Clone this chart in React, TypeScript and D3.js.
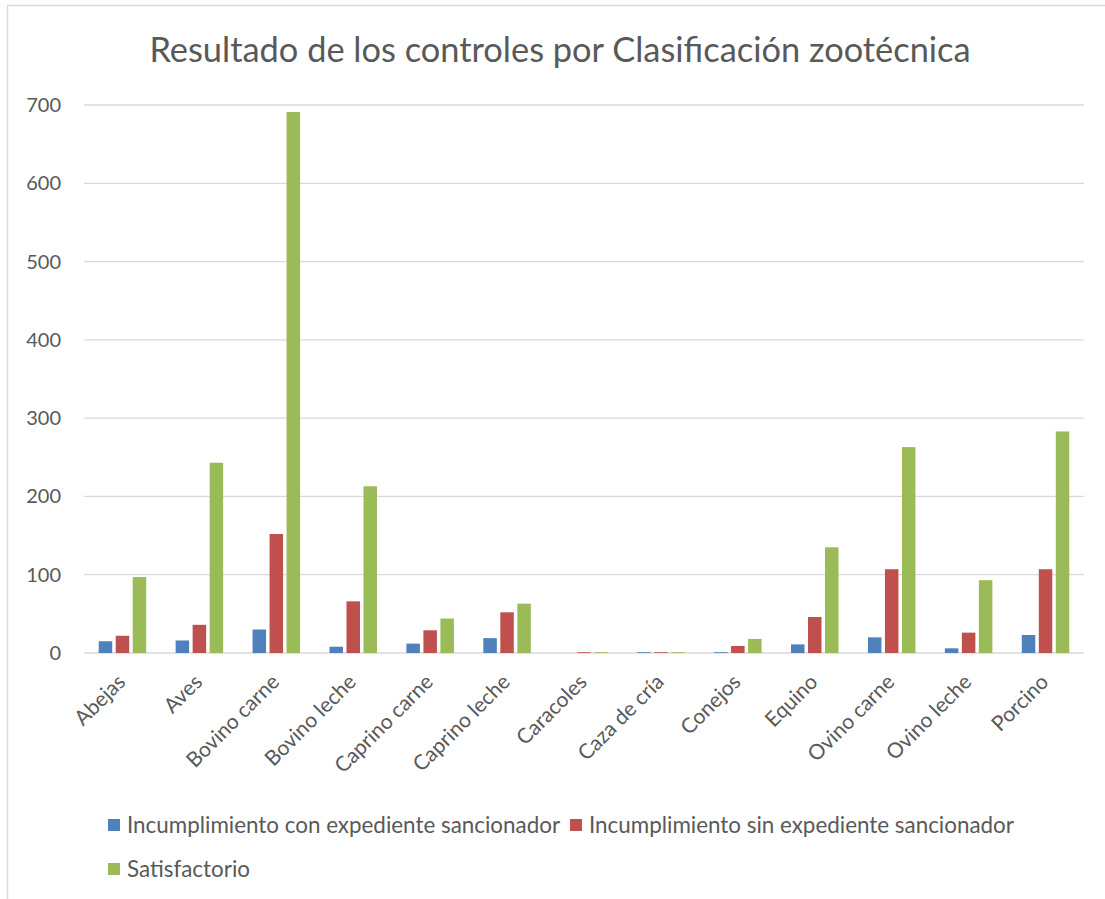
import React, { useEffect, useRef } from "react";
import * as d3 from "d3";

const categories = [
  "Abejas",
  "Aves",
  "Bovino carne",
  "Bovino leche",
  "Caprino carne",
  "Caprino leche",
  "Caracoles",
  "Caza de cría",
  "Conejos",
  "Equino",
  "Ovino carne",
  "Ovino leche",
  "Porcino",
];

const seriesNames = [
  "Incumplimiento con expediente sancionador",
  "Incumplimiento sin expediente sancionador",
  "Satisfactorio",
];

const conExpediente = [15, 16, 30, 8, 12, 19, 0, 1, 1, 11, 20, 6, 23];
const sinExpediente = [22, 36, 152, 66, 29, 52, 1, 1, 9, 46, 107, 26, 107];
const satisfactorio = [97, 243, 691, 213, 44, 63, 1, 1, 18, 135, 263, 93, 283];

const yTicks = [0, 100, 200, 300, 400, 500, 600, 700];
const colors = ["#4f81bd", "#c0504d", "#9bbb59"];

const W = 1105;
const H = 899;
const FONT = "Lato, 'Open Sans', sans-serif";
const TEXT = "#595959";

const App = () => {
  const ref = useRef<SVGSVGElement>(null);

  useEffect(() => {
    const svg = d3.select(ref.current);
    svg.selectAll("*").remove();

    const margin = { left: 84, right: 21, top: 105, bottom: 246 };
    const width = W - margin.left - margin.right;
    const height = H - margin.top - margin.bottom;

    // outer chart border
    svg
      .append("rect")
      .attr("x", 7.5)
      .attr("y", 5.5)
      .attr("width", W)
      .attr("height", H)
      .attr("fill", "#fff")
      .attr("stroke", "#d9d9d9")
      .attr("stroke-width", 1.5);

    svg
      .append("text")
      .attr("x", 560)
      .attr("y", 62)
      .attr("text-anchor", "middle")
      .attr("fill", TEXT)
      .style("font-family", FONT)
      .style("font-size", "34.4px")
      .text("Resultado de los controles por Clasificación zootécnica");

    const g = svg
      .append("g")
      .attr("transform", `translate(${margin.left},${margin.top})`);

    const x = d3.scaleBand().domain(categories).range([0, width]);
    const y = d3.scaleLinear().domain([0, 700]).range([height, 0]);

    const data = [conExpediente, sinExpediente, satisfactorio];
    const barW = 13.5;
    const step = 17;

    g.selectAll(".grid")
      .data(yTicks)
      .join("line")
      .attr("class", "grid")
      .attr("x1", 0)
      .attr("x2", width)
      .attr("y1", (d) => y(d))
      .attr("y2", (d) => y(d))
      .attr("stroke", "#d9d9d9")
      .attr("stroke-width", 1.3);

    g.selectAll(".ylab")
      .data(yTicks)
      .join("text")
      .attr("class", "ylab")
      .attr("x", -23)
      .attr("y", (d) => y(d))
      .attr("dy", "0.35em")
      .attr("text-anchor", "end")
      .attr("fill", TEXT)
      .style("font-family", FONT)
      .style("font-size", "20px")
      .text((d) => d);

    data.forEach((vals, si) => {
      g.selectAll(`.bar${si}`)
        .data(vals)
        .join("rect")
        .attr("class", `bar${si}`)
        .attr("x", (_, i) => {
          const c = x(categories[i])! + x.bandwidth() / 2;
          return c + (si - 1) * step - barW / 2;
        })
        .attr("y", (d) => y(d))
        .attr("width", barW)
        .attr("height", (d) => y(0) - y(d))
        .attr("fill", colors[si]);
    });

    g.selectAll(".xlab")
      .data(categories)
      .join("text")
      .attr("class", "xlab")
      .attr("text-anchor", "end")
      .attr(
        "transform",
        (d) =>
          `translate(${x(d)! + x.bandwidth() / 2 - 1},${height + 25}) rotate(-45)`
      )
      .attr("dy", "0.35em")
      .attr("fill", TEXT)
      .style("font-family", FONT)
      .style("font-size", "21px")
      .text((d) => d);

    const legendPos = [
      [108, 825],
      [570, 825],
      [108, 869],
    ];
    seriesNames.forEach((name, i) => {
      const [lx, ly] = legendPos[i];
      svg
        .append("rect")
        .attr("x", lx)
        .attr("y", ly - 6)
        .attr("width", 12)
        .attr("height", 12)
        .attr("fill", colors[i]);
      svg
        .append("text")
        .attr("x", lx + 19)
        .attr("y", ly)
        .attr("dy", "0.35em")
        .attr("fill", TEXT)
        .style("font-family", FONT)
        .style("font-size", "22.4px")
        .text(name);
    });
  }, []);

  return (
    <svg
      ref={ref}
      width={W}
      height={H}
      style={{ position: "absolute", left: 0, top: 0, display: "block" }}
    />
  );
};

export default App;
